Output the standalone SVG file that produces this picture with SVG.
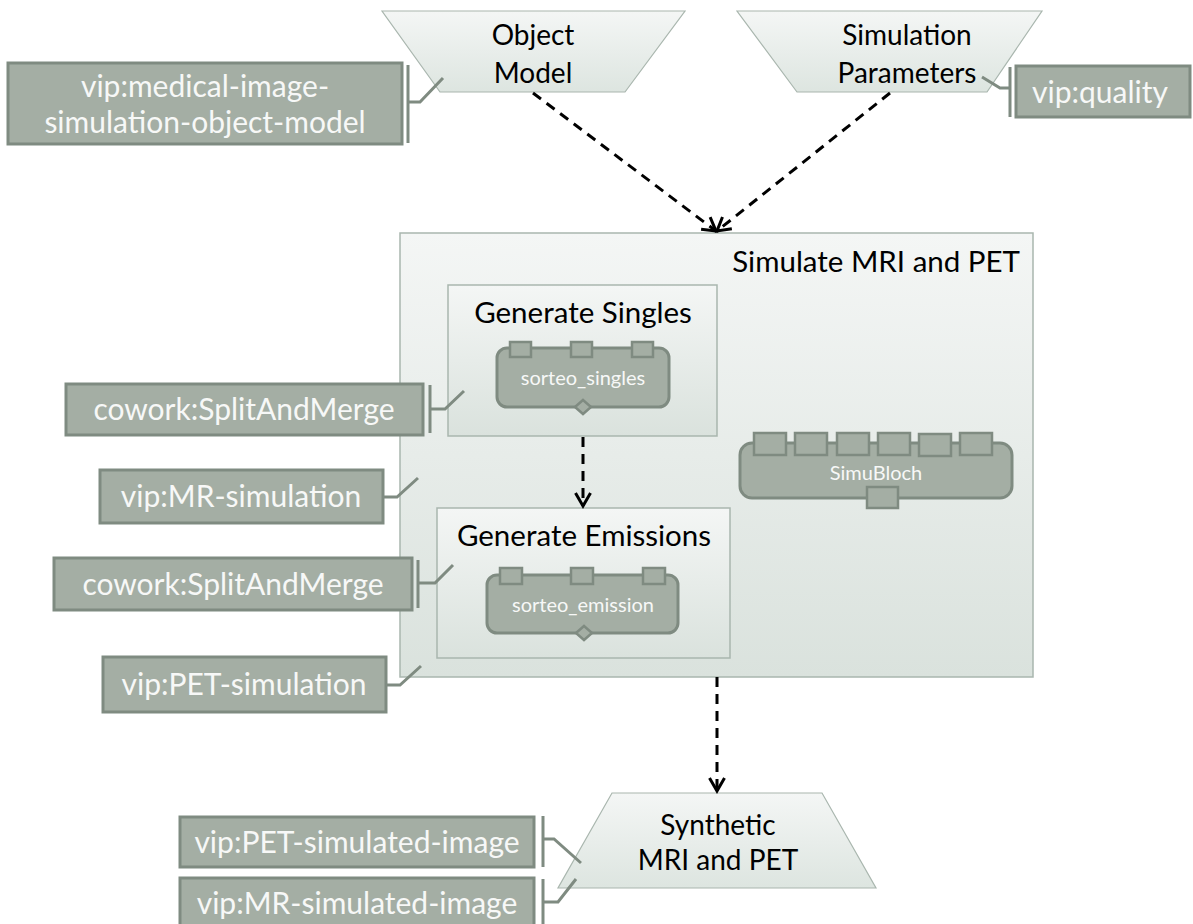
<svg xmlns="http://www.w3.org/2000/svg" width="1193" height="924" viewBox="0 0 1193 924">
<defs>
<linearGradient id="gTrap" x1="0" y1="0" x2="0" y2="1">
<stop offset="0" stop-color="#f4f6f5"/><stop offset="1" stop-color="#dde5e0"/>
</linearGradient>
<linearGradient id="gBox" x1="0" y1="0" x2="0" y2="1">
<stop offset="0" stop-color="#f4f6f5"/><stop offset="1" stop-color="#dae2dd"/>
</linearGradient>
<marker id="arr" markerUnits="userSpaceOnUse" markerWidth="22" markerHeight="22" viewBox="0 0 22 22" refX="16" refY="11" orient="auto">
<path d="M3,3.5 L16,11 L3,18.5" fill="none" stroke="#000" stroke-width="3"/>
</marker>
<style>
.trap{fill:url(#gTrap);stroke:#a9b6ae;stroke-width:1.2}
.cont{fill:url(#gBox);stroke:#a9b6ae;stroke-width:1.5}
.lbl{fill:#a4aea4;stroke:#7f8b81;stroke-width:3}
.lt{font-family:Lato,"Liberation Sans",sans-serif;font-size:30px;fill:#f7f8f7;text-anchor:middle}
.nt{font-family:Lato,"Liberation Sans",sans-serif;font-size:28px;fill:#000;text-anchor:middle}
.ct{font-family:Lato,"Liberation Sans",sans-serif;font-size:29.5px;fill:#000;text-anchor:middle}
.blk{fill:#a4aea4;stroke:#7f8b81;stroke-width:3}
.port{fill:#a4aea4;stroke:#7f8b81;stroke-width:2.5}
.bt{font-family:Lato,"Liberation Sans",sans-serif;font-size:20px;fill:#f7f8f7;text-anchor:middle}
.br{fill:none;stroke:#7f8b81;stroke-width:3}
.flow{fill:none;stroke:#000;stroke-width:3;stroke-dasharray:10 7;marker-end:url(#arr)}
</style>
</defs>
<rect width="1193" height="924" fill="#ffffff"/>

<g id="simulate-mri-pet">
<rect class="cont" x="400" y="233" width="633" height="444"/>
<text class="ct" x="1020" y="272" style="text-anchor:end">Simulate MRI and PET</text>
</g>

<g id="generate-singles">
<rect class="cont" x="448" y="285" width="269" height="151"/>
<text class="ct" x="583" y="323">Generate Singles</text>
</g>

<g id="sorteo-singles">
<rect class="blk" x="497" y="348" width="172" height="59" rx="10"/>
<rect class="port" x="510" y="342" width="21" height="15"/>
<rect class="port" x="571" y="342" width="21" height="15"/>
<rect class="port" x="632" y="342" width="21" height="15"/>
<polygon class="port" points="583,400 591,407 583,414 575,407"/>
<text class="bt" x="583" y="385">sorteo_singles</text>
</g>

<g id="generate-emissions">
<rect class="cont" x="437" y="508" width="293" height="150"/>
<text class="ct" x="584" y="546">Generate Emissions</text>
</g>

<g id="sorteo-emission">
<rect class="blk" x="487" y="575" width="191" height="58" rx="10"/>
<rect class="port" x="500" y="568" width="22" height="16"/>
<rect class="port" x="571" y="568" width="22" height="16"/>
<rect class="port" x="643" y="568" width="22" height="16"/>
<polygon class="port" points="584,626 592,633 584,640 576,633"/>
<text class="bt" x="583" y="612">sorteo_emission</text>
</g>

<g id="simubloch">
<rect class="blk" x="740" y="443" width="272" height="55" rx="12"/>
<rect class="port" x="754" y="433" width="32" height="22"/>
<rect class="port" x="795" y="433" width="32" height="22"/>
<rect class="port" x="837" y="433" width="32" height="22"/>
<rect class="port" x="878" y="433" width="32" height="22"/>
<rect class="port" x="919" y="434" width="32" height="22"/>
<rect class="port" x="960" y="433" width="32" height="22"/>
<rect class="port" x="867" y="487" width="31" height="21"/>
<text class="bt" x="876" y="480">SimuBloch</text>
</g>

<g id="object-model">
<polygon class="trap" points="382,11 685,11 625,92 440,92"/>
<text class="nt" x="533" y="45">Object</text>
<text class="nt" x="533" y="83">Model</text>
</g>

<g id="simulation-parameters">
<polygon class="trap" points="737,11 1042,11 987,92 797,92"/>
<text class="nt" x="907" y="45">Simulation</text>
<text class="nt" x="907" y="83">Parameters</text>
</g>

<g id="synthetic-mri-pet">
<polygon class="trap" points="612,793 822,793 876,888 558,888"/>
<text class="nt" x="718" y="835">Synthetic</text>
<text class="nt" x="718" y="870">MRI and PET</text>
</g>

<g id="lbl-object-model">
<rect class="lbl" x="8" y="63" width="394" height="81"/>
<text class="lt" x="205" y="97">vip:medical-image-</text>
<text class="lt" x="205" y="133">simulation-object-model</text>
</g>

<g id="lbl-quality">
<rect class="lbl" x="1016" y="66" width="174" height="51"/>
<text class="lt" x="1100" y="103">vip:quality</text>
</g>

<g id="lbl-cowork-singles">
<rect class="lbl" x="66" y="384" width="357" height="51"/>
<text class="lt" x="244" y="420">cowork:SplitAndMerge</text>
</g>

<g id="lbl-mr-simulation">
<rect class="lbl" x="100" y="470" width="283" height="53"/>
<text class="lt" x="241" y="507">vip:MR-simulation</text>
</g>

<g id="lbl-cowork-emissions">
<rect class="lbl" x="54" y="558" width="358" height="52"/>
<text class="lt" x="233" y="595">cowork:SplitAndMerge</text>
</g>

<g id="lbl-pet-simulation">
<rect class="lbl" x="103" y="657" width="283" height="55"/>
<text class="lt" x="244" y="695">vip:PET-simulation</text>
</g>

<g id="lbl-pet-image">
<rect class="lbl" x="180" y="817" width="354" height="50"/>
<text class="lt" x="357" y="853">vip:PET-simulated-image</text>
</g>

<g id="lbl-mr-image">
<rect class="lbl" x="180" y="878" width="354" height="50"/>
<text class="lt" x="357" y="914">vip:MR-simulated-image</text>
</g>

<g id="connectors">
<path class="flow" d="M533,93 L716,231"/>
<path class="flow" d="M890,93 L717,231"/>
<path class="flow" d="M583,437 L583,506"/>
<path class="flow" d="M717,677 L717,791"/>
<path class="br" d="M408,65 V143 M408,102 H420 L443,78"/>
<path class="br" d="M1010,67 V117 M982,77 L1000,88 H1010"/>
<path class="br" d="M430,385 V433 M430,409 H445 L464,391"/>
<path class="br" d="M383,497 H397 L418,478"/>
<path class="br" d="M418,560 V608 M418,583 H435 L453,565"/>
<path class="br" d="M386,685 H400 L421,666"/>
<path class="br" d="M543,816 V867 M543,839 H554 L581,863"/>
<path class="br" d="M543,879 V924 M543,902 H558 L576,879"/>
</g>
</svg>
